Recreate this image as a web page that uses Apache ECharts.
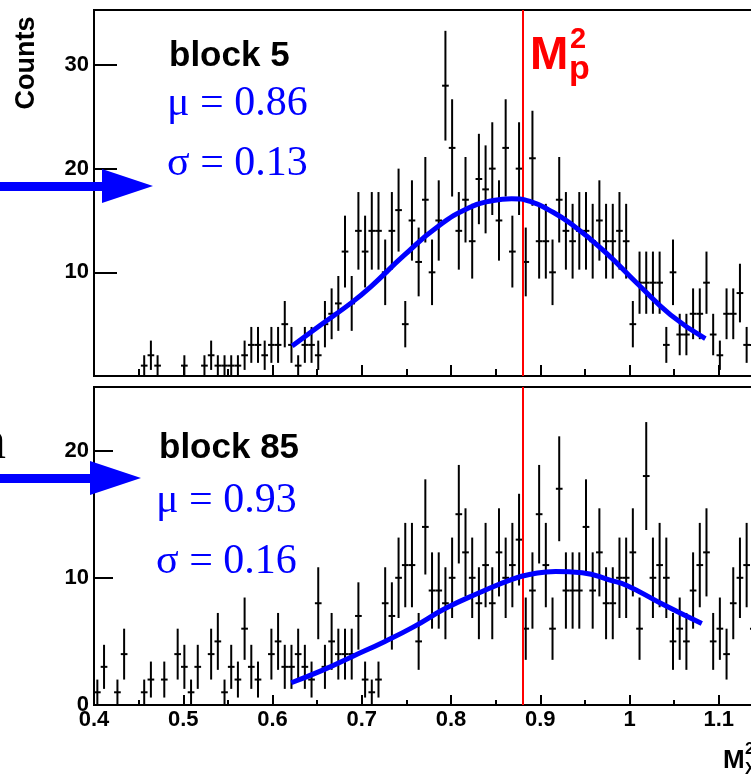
<!DOCTYPE html>
<html>
<head>
<meta charset="utf-8">
<script src="https://cdn.jsdelivr.net/npm/echarts@6/dist/echarts.min.js"></script>
<style>
html,body{margin:0;padding:0;background:#fff;}
#chart{width:751px;height:781px;}
</style>
</head>
<body>
<div id="chart"></div>
<script>
// ---- histogram binning (ROOT style) ----
const binStart = 0.4;
const binWidth = 0.0075;

// ---- counts per bin, block 5 (top panel), bins 0..98 ----
const countsBlock5 = [
  0,0,0,0,0,0,0,
  1,2,1,0,0,0,
  1,0,0,1,2,1,
  1,1,1,2,3,3,
  2,3,3,5,3,1,
  3,3,2,5,6,7,
  12,7,14,12,14,14,
  10,14,16,5,15,11,
  17,10,15,28,22,14,
  17,13,19,18,20,15,
  22,12,20,11,21,13,
  13,10,17,14,13,14,
  14,13,15,13,13,14,
  13,5,9,9,9,9,
  3,10,4,4,6,6,
  9,4,2,6,6,8,
  3,3
];

// ---- counts per bin, block 85 (bottom panel), bins 0..98 ----
const countsBlock85 = [
  1,3,0,1,4,0,
  0,1,2,0,2,0,
  4,3,1,3,0,4,
  5,1,3,2,6,3,
  2,0,4,5,3,3,
  4,3,2,8,3,5,
  4,4,4,7,2,1,
  2,8,7,10,11,11,
  5,14,9,9,8,10,
  15,12,10,8,11,8,
  12,10,11,13,6,9,
  15,11,6,17,9,9,
  9,14,9,12,8,8,
  10,10,12,6,18,10,
  11,10,5,6,5,9,
  11,12,5,6,4,8,
  10,11,6
];

// ---- fitted curves ----
const fit5X  = [0.622,0.652,0.689,0.710,0.747,0.785,0.822,0.846,0.868,0.890,0.910,0.934,0.971,1.009,1.046,1.085];
const fit5Y  = [2.9,  4.8,  7.1,  8.6,  11.6, 14.4, 16.3, 16.9, 17.1, 16.8, 16.0, 14.7, 12.1, 8.9,  5.9,  3.6];
const fit85X = [0.621,0.655,0.689,0.726,0.757,0.794,0.831,0.869,0.891,0.917,0.947,0.979,0.997,1.035,1.081];
const fit85Y = [1.75, 2.7,  3.8,  5.0,  6.1,  7.6,  8.8,  9.9,  10.3, 10.5, 10.4, 9.8,  9.4,  8.0,  6.4];

// ---- annotations ----
const blockNames = ['block 5', 'block 85'];
const fitMu = ['0.86', '0.93'];
const fitSigma = ['0.13', '0.16'];
const protonMassSq = 0.88;

// ---- tick values ----
const xRange = [0.4, 1.2];
const topYMajor = [0, 10, 20, 30];
const topYLabels = [10, 20, 30];
const topYMinor = [5, 15, 25];
const botYMajor = [0, 10, 20];
const botYMinor = [5, 15];

// ---- build data ----
function histData(counts) {
  const out = [];
  counts.forEach((c, k) => { if (c > 0) out.push([binStart + binWidth * (k + 0.5), c]); });
  return out;
}
function zip(xs, ys) { return xs.map((x, i) => [x, ys[i]]); }

const SANS = '"Liberation Sans", Arial, Helvetica, sans-serif';
const SERIF = '"Liberation Serif", "Times New Roman", serif';
const BLUE = '#0000ff';
const RED = '#ff0000';

function renderErr(params, api) {
  const x = api.value(0), v = api.value(1);
  const e = Math.sqrt(v);
  const p = api.coord([x, v]);
  const lo = api.coord([x, Math.max(v - e, 0)]);
  const hi = api.coord([x, v + e]);
  const w = api.size([binWidth, 0])[0];
  return {
    type: 'group',
    children: [
      { type: 'line', shape: { x1: p[0], y1: lo[1], x2: p[0], y2: hi[1] }, style: { stroke: '#000', lineWidth: 2 } },
      { type: 'line', shape: { x1: p[0] - w / 2, y1: p[1], x2: p[0] + w / 2, y2: p[1] }, style: { stroke: '#000', lineWidth: 2 } }
    ]
  };
}

const axisLine = { show: true, lineStyle: { color: '#000', width: 2 } };
const tickLabelFont = { color: '#000', fontFamily: SANS, fontWeight: 'bold', fontSize: 22 };

function xAxisCfg(gridIndex, showLabel, majorLen, minorLen) {
  return {
    type: 'value', gridIndex, min: xRange[0], max: xRange[1], interval: 0.1,
    axisLine,
    splitLine: { show: false },
    axisTick: { show: true, inside: true, length: majorLen, lineStyle: { color: '#000', width: 2 } },
    minorTick: { show: true, splitNumber: 2, length: minorLen, lineStyle: { color: '#000', width: 2 } },
    axisLabel: Object.assign({ show: showLabel, margin: 4 }, tickLabelFont)
  };
}
function yAxisCfg(gridIndex, max, tickVals, labelVals, len, isMain) {
  return {
    type: 'value', gridIndex, min: 0, max: max,
    axisLine: isMain ? axisLine : { show: false },
    splitLine: { show: false },
    axisTick: { show: true, inside: true, length: len, customValues: tickVals, lineStyle: { color: '#000', width: 2 } },
    axisLabel: isMain ? Object.assign({ show: true, margin: 5, customValues: labelVals }, tickLabelFont) : { show: false }
  };
}

const chart = echarts.init(document.getElementById('chart'), null, { renderer: 'canvas' });

const graphic = [
  // blue arrows
  { type: 'rect', z: 100, shape: { x: -5, y: 182, width: 110, height: 9 }, style: { fill: BLUE } },
  { type: 'polygon', z: 100, shape: { points: [[102, 169], [153, 186], [102, 203]] }, style: { fill: BLUE } },
  { type: 'rect', z: 100, shape: { x: -5, y: 474, width: 98, height: 9 }, style: { fill: BLUE } },
  { type: 'polygon', z: 100, shape: { points: [[90, 461], [141, 478], [90, 495]] }, style: { fill: BLUE } },
  // cropped text at left edge
  { type: 'text', z: 100, x: -21, y: 444, style: { text: 'n', font: '54px ' + SERIF, fill: '#000', textVerticalAlign: 'middle' } },
  // y axis title
  { type: 'text', z: 100, x: 27, y: 63, rotation: Math.PI / 2, style: { text: 'Counts', font: 'bold 27px ' + SANS, fill: '#000', textAlign: 'center', textVerticalAlign: 'middle' } },
  // top panel labels
  { type: 'text', z: 100, x: 169, y: 56, style: { text: blockNames[0], font: 'bold 35px ' + SANS, fill: '#000', textVerticalAlign: 'middle' } },
  { type: 'text', z: 100, x: 167, y: 104, style: { text: '\u03bc = ' + fitMu[0], font: '42px ' + SERIF, fill: BLUE, textVerticalAlign: 'middle' } },
  { type: 'text', z: 100, x: 167, y: 164, style: { text: '\u03c3 = ' + fitSigma[0], font: '42px ' + SERIF, fill: BLUE, textVerticalAlign: 'middle' } },
  // bottom panel labels
  { type: 'text', z: 100, x: 159, y: 448, style: { text: blockNames[1], font: 'bold 35px ' + SANS, fill: '#000', textVerticalAlign: 'middle' } },
  { type: 'text', z: 100, x: 156, y: 501, style: { text: '\u03bc = ' + fitMu[1], font: '42px ' + SERIF, fill: BLUE, textVerticalAlign: 'middle' } },
  { type: 'text', z: 100, x: 156, y: 562, style: { text: '\u03c3 = ' + fitSigma[1], font: '42px ' + SERIF, fill: BLUE, textVerticalAlign: 'middle' } },
  // M_p^2 label
  { type: 'text', z: 100, x: 530, y: 56, style: { text: 'M', font: 'bold 46px ' + SANS, fill: RED, textVerticalAlign: 'middle' } },
  { type: 'text', z: 100, x: 570, y: 40, style: { text: '2', font: 'bold 29px ' + SANS, fill: RED, textVerticalAlign: 'middle' } },
  { type: 'text', z: 100, x: 569, y: 70, style: { text: 'p', font: 'bold 34px ' + SANS, fill: RED, textVerticalAlign: 'middle' } },
  // x axis title (cropped)
  { type: 'text', z: 100, x: 723, y: 761, style: { text: 'M', font: 'bold 26px ' + SANS, fill: '#000', textVerticalAlign: 'middle' } },
  { type: 'text', z: 100, x: 745, y: 749, style: { text: '2', font: 'bold 17px ' + SANS, fill: '#000', textVerticalAlign: 'middle' } },
  { type: 'text', z: 100, x: 745, y: 769, style: { text: 'X', font: 'bold 17px ' + SANS, fill: '#000', textVerticalAlign: 'middle' } }
];

const redLine = (ymax) => ({
  silent: true, symbol: 'none', animation: false,
  label: { show: false },
  lineStyle: { color: RED, width: 2, type: 'solid' },
  data: [[{ coord: [protonMassSq, 0] }, { coord: [protonMassSq, ymax] }]]
});

const option = {
  animation: false,
  backgroundColor: '#fff',
  grid: [
    { left: 94, top: 10, width: 714, height: 366, show: true, borderColor: '#000', borderWidth: 2, backgroundColor: 'transparent', containLabel: false, outerBoundsMode: 'none' },
    { left: 94, top: 387, width: 714, height: 318, show: true, borderColor: '#000', borderWidth: 2, backgroundColor: 'transparent', containLabel: false, outerBoundsMode: 'none' }
  ],
  xAxis: [
    xAxisCfg(0, false, 11, 7),
    xAxisCfg(1, true, 10, 5)
  ],
  yAxis: [
    yAxisCfg(0, 35.3, topYMajor, topYLabels, 23, true),
    yAxisCfg(0, 35.3, topYMinor, [], 13, false),
    yAxisCfg(1, 25, botYMajor, botYMajor, 19, true),
    yAxisCfg(1, 25, botYMinor, [], 9, false)
  ],
  graphic,
  series: [
    {
      type: 'custom', xAxisIndex: 0, yAxisIndex: 0, renderItem: renderErr,
      data: histData(countsBlock5), z: 3, silent: true, clip: false
    },
    {
      type: 'line', xAxisIndex: 0, yAxisIndex: 0, data: zip(fit5X, fit5Y), smooth: true,
      showSymbol: false, symbol: 'none', z: 5, silent: true,
      lineStyle: { color: BLUE, width: 5 },
      markLine: redLine(35.3)
    },
    {
      type: 'custom', xAxisIndex: 1, yAxisIndex: 2, renderItem: renderErr,
      data: histData(countsBlock85), z: 3, silent: true, clip: false
    },
    {
      type: 'line', xAxisIndex: 1, yAxisIndex: 2, data: zip(fit85X, fit85Y), smooth: true,
      showSymbol: false, symbol: 'none', z: 5, silent: true,
      lineStyle: { color: BLUE, width: 5 },
      markLine: redLine(25)
    }
  ]
};
chart.setOption(option);
</script>
</body>
</html>
